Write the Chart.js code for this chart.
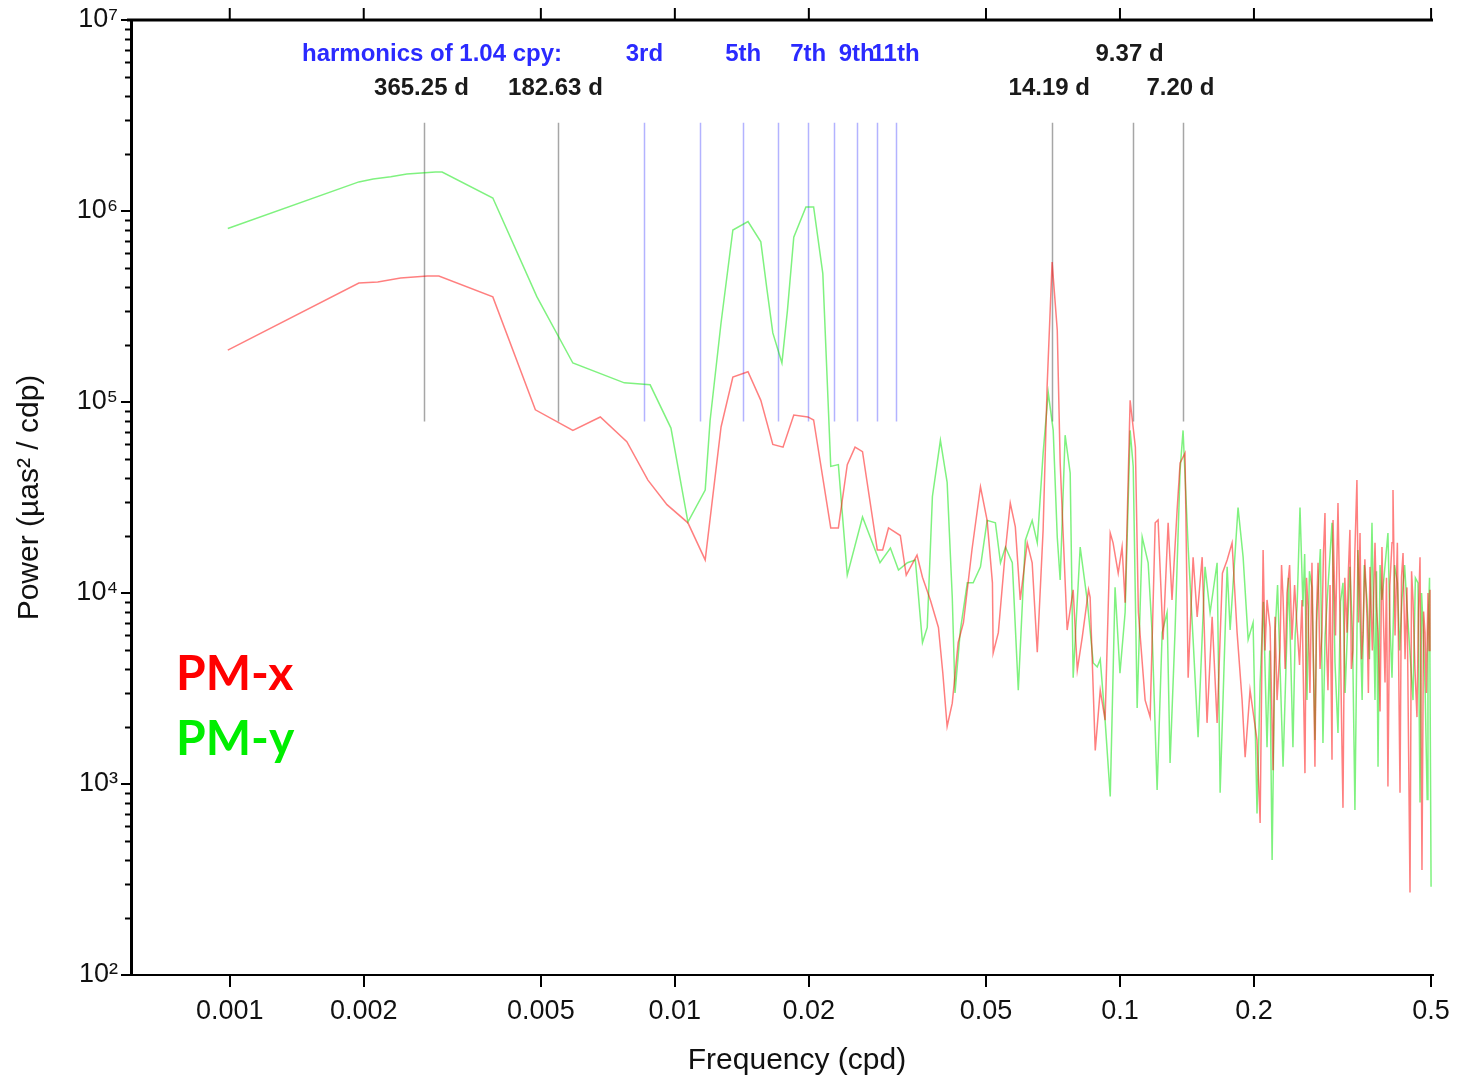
<!DOCTYPE html>
<html>
<head>
<meta charset="utf-8">
<script src="https://cdn.jsdelivr.net/npm/chart.js@4.4.1/dist/chart.umd.min.js"></script>
<style>
  html, body { margin: 0; padding: 0; background: #fff; }
</style>
</head>
<body>
<canvas id="psd" width="1461" height="1080"></canvas>
<script>
// PM-x spectrum (frequency in cpd, power in uas^2/cpd)
const pmxFreq = [0.00099, 0.00195, 0.00215, 0.00242, 0.00278, 0.00295, 0.0039, 0.00486, 0.0059, 0.0068,
  0.0078, 0.0087, 0.0096, 0.0107, 0.0117, 0.0127, 0.0135, 0.0146, 0.0156, 0.0166,
  0.0175, 0.0185, 0.0199, 0.0205, 0.0224, 0.0233, 0.0244, 0.0254, 0.0264, 0.0285,
  0.0293, 0.0302, 0.0321, 0.0331, 0.035, 0.036, 0.0375, 0.0391, 0.04, 0.0409,
  0.042, 0.0433, 0.0445, 0.0465, 0.0486, 0.0503, 0.0517, 0.0519, 0.0533, 0.0553,
  0.0567, 0.0582, 0.0597, 0.0619, 0.0635, 0.0652, 0.0672, 0.0686, 0.0704, 0.0723,
  0.0734, 0.0761, 0.0785, 0.0802, 0.0823, 0.085, 0.0857, 0.088, 0.0903, 0.0926,
  0.0951, 0.0965, 0.0991, 0.1011, 0.1027, 0.1054, 0.1083, 0.11, 0.1139, 0.1169,
  0.12, 0.1218, 0.125, 0.1283, 0.1309, 0.1344, 0.1365, 0.14, 0.1423, 0.146,
  0.1491, 0.153, 0.1569, 0.1611, 0.1653, 0.1699, 0.1741, 0.1786, 0.1833, 0.1881,
  0.1911, 0.196, 0.2032, 0.2065, 0.2097, 0.2118, 0.214, 0.2174, 0.2208, 0.223,
  0.2254, 0.2289, 0.2307, 0.2325, 0.235, 0.2373, 0.2405, 0.2435, 0.2468, 0.25,
  0.2532, 0.2564, 0.2604, 0.2625, 0.2645, 0.2672, 0.27, 0.2742, 0.2765, 0.2786,
  0.2815, 0.2843, 0.2865, 0.2888, 0.291, 0.2933, 0.2965, 0.2995, 0.3011, 0.305,
  0.3089, 0.312, 0.3154, 0.317, 0.32, 0.3237, 0.326, 0.3286, 0.331, 0.3337,
  0.337, 0.3407, 0.3435, 0.3462, 0.349, 0.3516, 0.355, 0.3589, 0.3615, 0.3645,
  0.369, 0.3741, 0.377, 0.38, 0.384, 0.3878, 0.391, 0.394, 0.397, 0.4,
  0.404, 0.4085, 0.4106, 0.415, 0.42, 0.4258, 0.429, 0.4325, 0.437, 0.4414,
  0.4484, 0.452, 0.4554, 0.46, 0.4648, 0.4685, 0.4722, 0.477, 0.481, 0.4845,
  0.488, 0.492, 0.495, 0.4972];
const pmxPower = [1.87e5, 4.2e5, 4.25e5, 4.46e5, 4.57e5, 4.57e5, 3.55e5, 9.1e4, 7.1e4, 8.35e4,
  6.2e4, 3.9e4, 2.9e4, 2.33e4, 1.49e4, 7.4e4, 1.35e5, 1.44e5, 1.02e5, 6.0e4,
  5.8e4, 8.55e4, 8.35e4, 8.05e4, 2.19e4, 2.19e4, 4.7e4, 5.8e4, 5.5e4, 1.68e4,
  1.68e4, 2.19e4, 2.0e4, 1.24e4, 1.58e4, 1.21e4, 9.2e3, 6.6e3, 3.8e3, 2.0e3,
  2.65e3, 5.5e3, 7.0e3, 1.68e4, 3.6e4, 2.4e4, 1.13e4, 4.85e3, 6.2e3, 1.68e4,
  2.96e4, 2.22e4, 9.2e3, 1.83e4, 1.44e4, 4.9e3, 2.14e4, 1.2e5, 5.4e5, 2.38e5,
  4.8e4, 6.4e3, 1.04e4, 3.95e3, 5.9e3, 1.04e4, 9.5e3, 1.5e3, 3.1e3, 2.16e3,
  2.06e4, 1.83e4, 1.27e4, 1.74e4, 8.9e3, 1.02e5, 5.8e4, 7.9e3, 2.75e3, 2.24e3,
  2.33e4, 2.41e4, 5.7e3, 2.33e4, 9.2e3, 2.72e4, 4.8e4, 5.4e4, 3.6e3, 1.54e4,
  7.5e3, 1.54e4, 2.09e3, 7.5e3, 2.09e3, 1.27e4, 1.49e4, 1.83e4, 6.2e3, 2.75e3,
  1.38e3, 3.1e3, 1.7e3, 6.25e2, 1.68e4, 5.0e3, 9.2e3, 6.6e3, 1.18e3, 7.5e3,
  2.75e3, 5.2e3, 1.4e4, 9.5e3, 4.0e3, 1.0e4, 1.4e4, 5.7e3, 1.1e4, 6.6e3,
  4.2e3, 9.2e3, 1.14e3, 1.2e4, 8.5e3, 3.0e3, 1.44e4, 1.23e3, 8.0e3, 1.44e4,
  4.0e3, 6.2e3, 1.6e4, 2.62e4, 5.5e3, 3.1e3, 1.1e4, 1.34e3, 2.41e4, 6.0e3,
  2.96e4, 8.0e3, 1.5e3, 7.5e2, 1.2e4, 6.2e3, 1.3e4, 2.14e4, 4.0e3, 5.0e3,
  1.6e4, 3.9e4, 7.0e3, 2.06e4, 4.5e3, 6.2e3, 1.5e4, 7.5e3, 3.0e3, 1.37e4,
  5.0e3, 1.83e4, 8.5e3, 6.2e3, 2.4e3, 1.74e4, 7.0e3, 3.4e3, 1.2e4, 9.7e2,
  1.1e4, 1.83e4, 3.46e4, 6.0e3, 1.83e4, 9.0e2, 1.2e4, 1.62e4, 4.5e3, 1.07e4,
  2.7e2, 1.3e4, 9.2e3, 4.0e3, 2.24e3, 8.0e3, 1.54e4, 3.55e2, 8.0e3, 6.2e3,
  3.0e3, 1.0e4, 5.0e3, 1.04e4];

// PM-y spectrum
const pmyFreq = [0.00099, 0.00195, 0.0021, 0.0023, 0.0025, 0.0029, 0.003, 0.0039, 0.0049, 0.0059,
  0.0077, 0.0088, 0.0098, 0.0107, 0.0117, 0.012, 0.0127, 0.0135, 0.0146, 0.0156,
  0.0161, 0.0166, 0.0174, 0.0179, 0.0185, 0.0197, 0.0205, 0.0215, 0.0224, 0.0233,
  0.0244, 0.0264, 0.0289, 0.0305, 0.0318, 0.0333, 0.0347, 0.036, 0.0369, 0.0379,
  0.0395, 0.0409, 0.042, 0.0426, 0.0438, 0.0454, 0.0468, 0.0486, 0.0503, 0.0525,
  0.0539, 0.0553, 0.0573, 0.0591, 0.0613, 0.0635, 0.0652, 0.0672, 0.069, 0.0708,
  0.0723, 0.0734, 0.0753, 0.0773, 0.0785, 0.0814, 0.0844, 0.0871, 0.0889, 0.0903,
  0.0926, 0.0951, 0.0975, 0.1, 0.1027, 0.1054, 0.1071, 0.1093, 0.1122, 0.1157,
  0.1181, 0.1212, 0.1244, 0.1276, 0.1296, 0.133, 0.1365, 0.1386, 0.1423, 0.146,
  0.1498, 0.1553, 0.1594, 0.1653, 0.1679, 0.1741, 0.1768, 0.1842, 0.1891, 0.1941,
  0.1991, 0.2032, 0.2065, 0.21, 0.214, 0.217, 0.2197, 0.2231, 0.226, 0.2289,
  0.2325, 0.2373, 0.239, 0.241, 0.2447, 0.2475, 0.25, 0.2538, 0.2577, 0.26,
  0.2631, 0.2665, 0.27, 0.2742, 0.2765, 0.2786, 0.282, 0.2858, 0.289, 0.2933,
  0.2995, 0.302, 0.3042, 0.3089, 0.313, 0.317, 0.3205, 0.3237, 0.3286, 0.333,
  0.3372, 0.3425, 0.346, 0.35, 0.354, 0.3589, 0.3635, 0.3683, 0.3741, 0.377,
  0.38, 0.384, 0.3878, 0.4, 0.404, 0.4085, 0.414, 0.42, 0.425, 0.43,
  0.436, 0.4414, 0.448, 0.4554, 0.461, 0.4673, 0.4722, 0.476, 0.48, 0.485,
  0.49, 0.492, 0.496, 0.5];
const pmyPower = [8.1e5, 1.42e6, 1.47e6, 1.51e6, 1.56e6, 1.6e6, 1.6e6, 1.17e6, 3.55e5, 1.6e5,
  1.26e5, 1.23e5, 7.3e4, 2.35e4, 3.46e4, 8.0e4, 2.6e5, 7.95e5, 8.8e5, 6.9e5,
  3.9e5, 2.3e5, 1.6e5, 3.0e5, 7.3e5, 1.05e6, 1.05e6, 4.7e5, 4.6e4, 4.7e4,
  1.24e4, 2.5e4, 1.44e4, 1.72e4, 1.32e4, 1.44e4, 1.49e4, 5.5e3, 6.6e3, 3.2e4,
  6.3e4, 3.8e4, 9.5e3, 3.0e3, 6.4e3, 1.13e4, 1.13e4, 1.37e4, 2.4e4, 2.33e4,
  1.44e4, 1.74e4, 1.44e4, 3.1e3, 1.89e4, 2.4e4, 1.83e4, 5.4e4, 1.12e5, 7.1e4,
  1.96e4, 1.17e4, 6.7e4, 4.25e4, 3.6e3, 1.74e4, 9.2e3, 4.3e3, 4.1e3, 4.5e3,
  2.16e3, 8.6e2, 1.07e4, 3.8e3, 7.9e3, 7.1e4, 4.6e4, 2.5e3, 1.96e4, 1.44e4,
  6.2e3, 9.3e2, 6.2e3, 7.9e3, 1.29e3, 6.4e3, 4.4e4, 7.1e4, 1.74e4, 5.7e3,
  1.76e3, 1.37e4, 7.9e3, 1.44e4, 9.0e2, 1.37e4, 6.4e3, 2.8e4, 1.54e4, 5.7e3,
  7.0e3, 7.0e2, 3.4e3, 9.0e3, 1.56e3, 5.0e3, 4.0e2, 6.2e3, 1.1e4, 4.1e3,
  1.23e3, 6.2e3, 1.2e4, 6.6e3, 1.56e3, 6.0e3, 8.5e3, 2.8e4, 8.5e3, 1.6e4,
  2.75e3, 1.3e4, 1.07e4, 1.7e3, 7.0e3, 1.0e4, 1.7e4, 1.64e3, 6.0e3, 1.07e4,
  2.33e4, 1.0e4, 4.3e3, 1.85e3, 9.0e3, 1.13e4, 3.0e3, 5.5e3, 1.37e4, 6.0e3,
  7.3e2, 1.68e4, 8.0e3, 2.75e3, 1.4e4, 9.2e3, 4.5e3, 2.33e4, 2.75e3, 1.3e4,
  1.23e3, 1.4e4, 9.2e3, 2.06e4, 7.0e3, 3.6e3, 1.4e4, 1.13e4, 5.0e3, 9.2e3,
  1.4e4, 8.5e3, 5.0e3, 2.75e3, 1.2e4, 1.13e4, 8.0e2, 1.0e4, 6.6e3, 3.0e3,
  8.3e2, 6.2e3, 1.2e4, 2.9e2];

// axis ticks
const xTicks = [0.001, 0.002, 0.005, 0.01, 0.02, 0.05, 0.1, 0.2, 0.5];
const xTickLabels = ["0.001", "0.002", "0.005", "0.01", "0.02", "0.05", "0.1", "0.2", "0.5"];
const yTicks = [1e2, 1e3, 1e4, 1e5, 1e6, 1e7];
const yTickLabels = ["10\u00b2", "10\u00b3", "10\u2074", "10\u2075", "10\u2076", "10\u2077"];

// marked periods (days) and harmonics of the annual-ish term
const markedPeriods = [365.25, 182.63, 14.19, 9.37, 7.20];
const periodLabels = ["365.25 d", "182.63 d", "14.19 d", "9.37 d", "7.20 d"];
const periodRows = [1, 1, 1, 0, 1];
const harmonicBaseCpy = 1.04;
const harmonicNums = [3, 4, 5, 6, 7, 8, 9, 10, 11];
const harmonicLabels = { 3: "3rd", 5: "5th", 7: "7th", 9: "9th", 11: "11th" };
const markerTop = 2.9e6;
const markerBottom = 7.9e4;

const FONT = "'Liberation Sans', Arial, Helvetica, sans-serif";

const harmonicFreq = n => n * harmonicBaseCpy / 365.25;

const decorations = {
    id: "decorations",
    beforeDatasetsDraw(chart) {
        const { ctx, scales: { x, y } } = chart;
        const yt = y.getPixelForValue(markerTop);
        const yb = y.getPixelForValue(markerBottom);
        ctx.save();
        ctx.lineWidth = 1.5;
        ctx.strokeStyle = "#b3b3ff";
        harmonicNums.forEach(n => {
            const px = Math.round(x.getPixelForValue(harmonicFreq(n))) + 0.5;
            ctx.beginPath(); ctx.moveTo(px, yt); ctx.lineTo(px, yb); ctx.stroke();
        });
        ctx.strokeStyle = "#a6a6a6";
        markedPeriods.forEach(p => {
            const px = Math.round(x.getPixelForValue(1 / p)) + 0.5;
            ctx.beginPath(); ctx.moveTo(px, yt); ctx.lineTo(px, yb); ctx.stroke();
        });
        ctx.restore();
    },
    afterDraw(chart) {
        const { ctx, chartArea: a, scales: { x, y } } = chart;
        ctx.save();

        // top frame line + outward ticks
        ctx.strokeStyle = "#000";
        ctx.lineWidth = 3;
        ctx.beginPath(); ctx.moveTo(a.left - 4, a.top); ctx.lineTo(a.right, a.top); ctx.stroke();
        ctx.lineWidth = 2;
        xTicks.forEach(v => {
            const px = x.getPixelForValue(v);
            ctx.beginPath(); ctx.moveTo(px, a.top); ctx.lineTo(px, a.top - 12); ctx.stroke();
        });

        // minor ticks on the power axis
        for (let d = 2; d < 7; d++) {
            for (let m = 2; m <= 9; m++) {
                const py = Math.round(y.getPixelForValue(m * Math.pow(10, d))) + 0.5;
                ctx.beginPath(); ctx.moveTo(a.left, py); ctx.lineTo(a.left - 6, py); ctx.stroke();
            }
        }

        // x axis title (sits a little right of centre in the original)
        ctx.textAlign = "center";
        ctx.textBaseline = "middle";
        ctx.fillStyle = "#111";
        ctx.font = "30px " + FONT;
        ctx.fillText("Frequency (cpd)", (a.left + a.right) / 2 + 15, a.bottom + 86);

        // annotation text
        const row0 = a.top + 34, row1 = a.top + 68;
        ctx.font = "bold 24px " + FONT;
        ctx.fillStyle = "#2a2aff";
        ctx.fillText("harmonics of 1.04 cpy:", x.getPixelForValue(harmonicFreq(1)), row0);
        Object.keys(harmonicLabels).forEach(n => {
            ctx.fillText(harmonicLabels[n], x.getPixelForValue(harmonicFreq(+n)), row0);
        });
        ctx.fillStyle = "#1a1a1a";
        markedPeriods.forEach((p, i) => {
            ctx.fillText(periodLabels[i], x.getPixelForValue(1 / p) - 3, periodRows[i] ? row1 : row0);
        });

        // series labels
        ctx.textAlign = "left";
        ctx.font = "bold 48px Lato, 'Open Sans', sans-serif";
        ctx.fillStyle = "#ff0000";
        ctx.fillText("PM-x", a.left + 45, 675);
        ctx.fillStyle = "#00ee00";
        ctx.fillText("PM-y", a.left + 45, 740);
        ctx.restore();
    }
};

const toPoints = (fs, ps) => fs.map((f, i) => ({ x: f, y: ps[i] }));

new Chart(document.getElementById("psd"), {
    type: "line",
    data: {
        datasets: [{
            label: "PM-x",
            data: toPoints(pmxFreq, pmxPower),
            borderColor: "rgba(255,0,0,0.5)",
            borderWidth: 1.5,
            pointRadius: 0,
            tension: 0
        }, {
            label: "PM-y",
            data: toPoints(pmyFreq, pmyPower),
            borderColor: "rgba(0,230,0,0.5)",
            borderWidth: 1.5,
            pointRadius: 0,
            tension: 0
        }]
    },
    options: {
        responsive: false,
        animation: false,
        devicePixelRatio: 1,
        layout: { padding: { top: 20, right: 28, left: 0, bottom: 0 } },
        plugins: { legend: { display: false }, tooltip: { enabled: false } },
        scales: {
            x: {
                type: "logarithmic",
                min: 0.000603,
                max: 0.505,
                afterBuildTicks: s => { s.ticks = xTicks.map(v => ({ value: v })); },
                afterFit: s => { s.height = 105; },
                ticks: {
                    callback: (v, i) => xTickLabels[i],
                    color: "#111",
                    font: { family: FONT, size: 27 },
                    padding: 8,
                    autoSkip: false,
                    maxRotation: 0
                },
                grid: { drawOnChartArea: false, tickLength: 12, color: "#000", lineWidth: 2 },
                border: { color: "#000", width: 2 },
                title: { display: false }
            },
            y: {
                type: "logarithmic",
                min: 100,
                max: 1e7,
                afterBuildTicks: s => { s.ticks = yTicks.map(v => ({ value: v })); },
                afterFit: s => { s.width = 131; },
                ticks: {
                    callback: (v, i) => yTickLabels[i],
                    color: "#111",
                    font: { family: FONT, size: 27 },
                    padding: 3,
                    autoSkip: false
                },
                grid: { drawOnChartArea: false, tickLength: 10, color: "#000", lineWidth: 2 },
                border: { color: "#000", width: 3 },
                title: {
                    display: true,
                    text: "Power (\u00b5as\u00b2 / cdp)",
                    color: "#111",
                    font: { family: FONT, size: 30 },
                    padding: { top: 12, bottom: 0 }
                }
            }
        }
    },
    plugins: [decorations]
});
</script>
</body>
</html>
